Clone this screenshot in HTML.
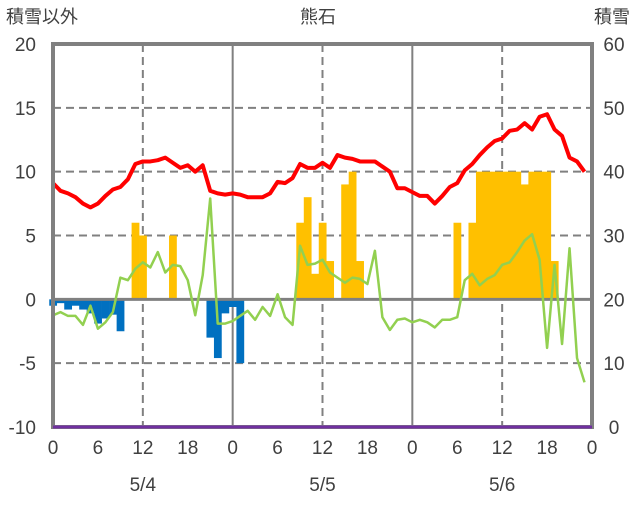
<!DOCTYPE html>
<html><head><meta charset="utf-8"><style>
body{margin:0;background:#fff;}
svg text{font-family:"Liberation Sans","Noto Sans CJK JP",sans-serif;fill:#404040;}
</style></head><body>
<svg id="chart" width="636" height="501" viewBox="0 0 636 501" xmlns="http://www.w3.org/2000/svg">
<text x="6" y="23" font-size="18">積雪以外</text>
<text x="318" y="23" font-size="18" text-anchor="middle">熊石</text>
<text x="630" y="23" font-size="18" text-anchor="end">積雪</text>
<g id="grid"></g>
<g id="bars"></g>
<g id="lines"></g>
<g id="axes"></g>
</svg>
<script>
const hours=[0,1,2,3,4,5,6,7,8,9,10,11,12,13,14,15,16,17,18,19,20,21,22,23,24,25,26,27,28,29,30,31,32,33,34,35,36,37,38,39,40,41,42,43,44,45,46,47,48,49,50,51,52,53,54,55,56,57,58,59,60,61,62,63,64,65,66,67,68,69,70,71];
const temperature=[9.1,8.5,8.3,8.0,7.5,7.2,7.5,8.1,8.6,8.8,9.4,10.6,10.8,10.8,10.9,11.1,10.7,10.3,10.5,10.0,10.5,8.5,8.3,8.2,8.3,8.2,8.0,8.0,8.0,8.3,9.2,9.1,9.5,10.6,10.3,10.3,10.7,10.3,11.3,11.1,11.0,10.8,10.8,10.8,10.4,10.0,8.7,8.7,8.4,8.1,8.1,7.5,8.1,8.8,9.1,10.1,10.6,11.3,11.9,12.4,12.6,13.2,13.3,13.8,13.3,14.3,14.5,13.3,12.8,11.1,10.8,10.0];
const greenSeries=[-1.25,-1.0,-1.3,-1.3,-2.0,-0.5,-2.3,-1.8,-1.0,1.7,1.5,2.4,2.9,2.5,3.7,2.1,2.7,2.6,1.5,-1.25,1.9,7.9,-1.9,-1.9,-1.7,-1.3,-0.9,-1.6,-0.6,-1.3,0.4,-1.4,-2.0,4.2,2.7,2.8,3.1,2.1,1.7,1.3,1.7,1.6,1.2,3.8,-1.4,-2.4,-1.6,-1.5,-1.8,-1.6,-1.8,-2.2,-1.6,-1.6,-1.4,1.5,2.0,1.1,1.6,1.9,2.7,2.9,3.7,4.6,5.1,3.1,-3.8,2.7,-3.5,4.0,-4.6,-6.5];
const precip=[0,0,0,0,0,0,0,0,0,0,0,6,5,0,0,0,5,0,0,0,0,0,0,0,0,0,0,0,0,0,0,0,0,6,8,2,6,3,0,9,10,3,0,0,0,0,0,0,0,0,0,0,0,0,6,0,6,10,10,10,10,10,10,9,10,10,10,3,0,0,0,0];
const negBars=[-0.5,-0.3,-0.8,-0.5,-0.8,-1.1,-1.9,-1.5,-1.2,-2.5,0,0,0,0,0,0,0,0,0,0,0,-3.0,-4.6,-1.1,-0.6,-5.0,0,0,0,0,0,0,0,0,0,0,0,0,0,0,0,0,0,0,0,0,0,0,0,0,0,0,0,0,0,0,0,0,0,0,0,0,0,0,0,0,0,0,0,0,0,0];
const leftTicks=[20,15,10,5,0,-5,-10];
const rightTicks=[60,50,40,30,20,10,0];
const xTickLabels=["0","6","12","18","0","6","12","18","0","6","12","18","0"];
const dateLabels=["5/4","5/5","5/6"];

const X0=53,X1=592,Y0=427,Y1=44;
const xs=h=>X0+h*(X1-X0)/72;
const yL=v=>Y0-(v+10)*(Y0-Y1)/30;
const yR=v=>Y0-v*(Y0-Y1)/60;
const NS="http://www.w3.org/2000/svg";
function mk(parent,tag,attrs){const e=document.createElementNS(NS,tag);for(const k in attrs)e.setAttribute(k,attrs[k]);document.getElementById(parent).appendChild(e);return e;}

// grid
[15,10,5,-5].forEach(v=>{const l=mk('grid','line',{x1:X0,x2:X1,y1:yL(v),y2:yL(v),stroke:'#808080','stroke-width':2,'stroke-dasharray':'8,5'});

});
[12,36,60].forEach(h=>{const l=mk('grid','line',{x1:xs(h),x2:xs(h),y1:Y1,y2:Y0,stroke:'#808080','stroke-width':2,'stroke-dasharray':'8,5'});

});
[24,48].forEach(h=>{const l=mk('grid','line',{x1:xs(h),x2:xs(h),y1:Y1,y2:Y0,stroke:'#808080','stroke-width':2});

});

// bars
const bw=(X1-X0)/72;
hours.forEach((h,i)=>{
 if(precip[i]>0){const r=mk('bars','rect',{x:xs(h)-bw/2,y:yL(precip[i]),width:bw+0.3,height:yL(0)-yL(precip[i]),fill:'#ffc000'});
 
 }
 if(negBars[i]<0){const r=mk('bars','rect',{x:xs(h)-bw/2,y:yL(0),width:bw+0.3,height:yL(negBars[i])-yL(0),fill:'#0070c0'});
 
 }
});

// lines
const zl=mk('lines','line',{x1:X0,x2:X1,y1:yL(0),y2:yL(0),stroke:'#808080','stroke-width':3});


const gp=mk('lines','polyline',{points:hours.map((h,i)=>xs(h)+','+yL(greenSeries[i])).join(' '),fill:'none',stroke:'#92d050','stroke-width':2.5,'stroke-linejoin':'round'});


const rp=mk('lines','polyline',{points:hours.map((h,i)=>xs(h)+','+yL(temperature[i])).join(' '),fill:'none',stroke:'#ff0000','stroke-width':4,'stroke-linejoin':'round'});


const pl=mk('lines','line',{x1:X0,x2:X1,y1:yR(0),y2:yR(0),stroke:'#7030a0','stroke-width':3});



// frame
const fr=mk('axes','rect',{x:X0,y:Y1,width:X1-X0,height:Y0-Y1,fill:'none',stroke:'#808080','stroke-width':4});


const bl=mk('axes','line',{x1:X0,x2:X1,y1:Y0,y2:Y0,stroke:'#7030a0','stroke-width':3});



leftTicks.forEach(v=>{const t=mk('axes','text',{x:36,y:yL(v)+7,'font-size':19,'text-anchor':'end'});t.textContent=v;

});
rightTicks.forEach(v=>{const t=mk('axes','text',{x:614,y:yR(v)+7,'font-size':19,'text-anchor':'middle'});t.textContent=v;

});
xTickLabels.forEach((s,i)=>{const t=mk('axes','text',{x:xs(i*6),y:454,'font-size':19,'text-anchor':'middle'});t.textContent=s;

});
dateLabels.forEach((s,i)=>{const t=mk('axes','text',{x:xs(12+24*i),y:491,'font-size':19,'text-anchor':'middle'});t.textContent=s;

});
</script>
</body></html>
